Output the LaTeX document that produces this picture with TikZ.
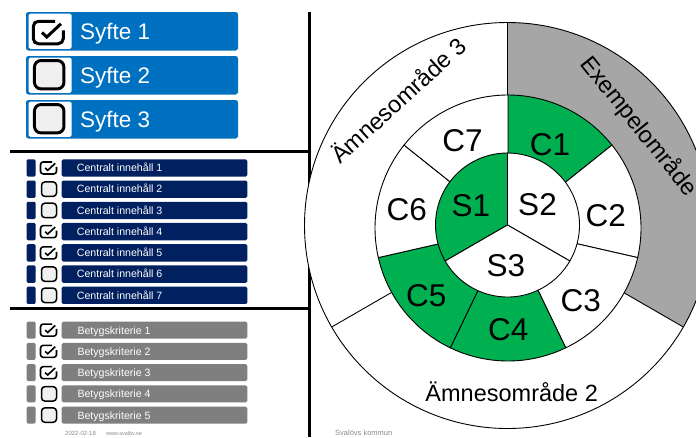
\documentclass[tikz,border=0pt]{standalone}
\usepackage{fontspec}
\setmainfont{Liberation Sans}
\definecolor{syfteblue}{HTML}{0070C0}
\definecolor{navybar}{HTML}{002060}
\definecolor{graybar}{HTML}{7F7F7F}
\definecolor{cgreen}{HTML}{00B050}
\definecolor{ringgray}{HTML}{A6A6A6}
\definecolor{footgray}{HTML}{8C8C8C}
\definecolor{boxfill}{HTML}{F0F0F0}
\tikzset{
  pics/unchk/.style={code={
    \draw[black, fill=boxfill, line width={0.1*#1}, rounded corners={0.22*#1}]
      (-0.5*#1,-0.48*#1) rectangle (0.5*#1,0.48*#1);
  }},
  pics/chk/.style={code={
    \draw[black, fill=white, line width={0.1*#1}, rounded corners={0.17*#1}]
      (0.23*#1,-0.375*#1) -- (-0.5*#1,-0.375*#1) -- (-0.5*#1,0.375*#1)
      -- (0.5*#1,0.375*#1) -- (0.5*#1,-0.07*#1);
    \draw[black, line width={0.1*#1}]
      (-0.21*#1,0.0) -- (-0.05*#1,0.15*#1) -- (0.42*#1,-0.29*#1);
  }},
  thinline/.style={draw=black, line width=0.9pt},
  sepline/.style={draw=black, line width=2.5pt},
  labelC/.style={font=\fontsize{31.5}{36}\selectfont, anchor=base, inner sep=0pt},
  areatext/.style={font=\fontsize{23.5}{28}\selectfont, anchor=base, inner sep=0pt},
  rowtext/.style={text=white, font=\fontsize{10.6}{12}\selectfont, anchor=base west, inner sep=0pt},
  syftetext/.style={text=white, font=\fontsize{22.5}{26}\selectfont, anchor=base west, inner sep=0pt},
  foottext/.style={text=footgray, anchor=base west, inner sep=0pt},
}
\begin{document}
\begin{tikzpicture}[x=1pt,y=-1pt]
\useasboundingbox (0,0) rectangle (696,437);
\clip (0,0) rectangle (696,437);
\fill[white] (0,0) rectangle (696,437);

% ---------- Syfte boxes ----------
\foreach \i/\ty in {1/12,2/56,3/100} {
  \fill[syfteblue, rounded corners=2.5pt] (26,\ty) rectangle (238,\ty+38.5);
  \fill[white, rounded corners=1.5pt] (28.7,\ty+1.7) rectangle (71.5,\ty+36.8);
  \node[syftetext] (syfte\i) at (80,\ty+27) {Syfte \i};
}
\pic at (48.3,32.5) {chk=30};
\pic at (49.2,74.7) {unchk=29.5};
\pic at (49.2,118.7) {unchk=29.5};

% ---------- Centralt innehall ----------
\foreach \i/\ck in {1/1,2/0,3/0,4/1,5/1,6/0,7/0} {
  \pgfmathsetmacro\ty{159.3+21.23*(\i-1)}
  \fill[navybar, rounded corners=1.2pt] (26.7,\ty) rectangle (35.5,\ty+17.3);
  \fill[navybar, rounded corners=1.5pt] (61.7,\ty) rectangle (247.3,\ty+17.3);
  \node[rowtext] (ci\i) at (76.7,\ty+12.4) {Centralt innehåll \i};
  \ifnum\ck=1 \pic at (48.5,\ty+8.65) {chk=16}; \else \pic at (49,\ty+8.65) {unchk=15}; \fi
}

% ---------- Betygskriterier ----------
\foreach \i/\ck in {1/1,2/1,3/1,4/0,5/0} {
  \pgfmathsetmacro\ty{321.7+21.25*(\i-1)}
  \fill[graybar, rounded corners=1.2pt] (26.7,\ty) rectangle (35.5,\ty+16.8);
  \fill[graybar, rounded corners=1.5pt] (61.7,\ty) rectangle (247.3,\ty+16.8);
  \node[rowtext] (bk\i) at (77.3,\ty+12.3) {Betygskriterie \i};
  \ifnum\ck=1 \pic at (48.5,\ty+8.4) {chk=16}; \else \pic at (49,\ty+8.4) {unchk=15}; \fi
}

% ---------- separators ----------
\coordinate (vtop) at (309.5,12);
\coordinate (vbot) at (309.5,437);
\coordinate (h1l) at (10,151.5);
\coordinate (h1r) at (309.5,151.5);
\coordinate (h2l) at (10,308.5);
\coordinate (h2r) at (309.5,308.5);
\draw[sepline] (vtop) -- (vbot);
\draw[sepline] (h1l) -- (h1r);
\draw[sepline] (h2l) -- (h2r);

% ---------- footer ----------
\node[foottext, font=\fontsize{6}{7}\selectfont] (date) at (65,435.5) {2022-02-18};
\node[foottext, font=\fontsize{5.5}{7}\selectfont] (web) at (106,435.5) {www.svalöv.se};
\node[foottext, font=\fontsize{7.5}{9}\selectfont] (kommun) at (335,435) {Svalövs kommun};

% ---------- circle diagram ----------
\begin{scope}[shift={(507.5,225.5)}, yscale=-1]
  \fill[white] (0,0) circle[radius=203];
  \fill[ringgray] (0,0) -- (90:203) arc[start angle=90, end angle=-30, radius=203] -- cycle;
  \draw[thinline] (0,0) circle[radius=203];
  \draw[thinline] (0,0) -- (90:203) (0,0) -- (-30:203) (0,0) -- (210:203);
  \foreach \k/\f in {0/cgreen,1/white,2/white,3/cgreen,4/cgreen,5/white,6/white} {
    \pgfmathsetmacro\a{90-\k*360/7}
    \filldraw[fill=\f, thinline] (0.5,-2.5) -- ++(\a:133)
      arc[start angle=\a, delta angle=-51.4286, radius=133] -- cycle;
  }
  \filldraw[fill=cgreen, thinline] (0,0.5) -- ++(90:72) arc[start angle=90, end angle=210, radius=72] -- cycle;
  \filldraw[fill=white, thinline] (0,0.5) -- ++(-30:72) arc[start angle=-30, end angle=90, radius=72] -- cycle;
  \filldraw[fill=white, thinline] (0,0.5) -- ++(210:72) arc[start angle=210, end angle=330, radius=72] -- cycle;
\end{scope}

\node[labelC] (c1) at (550,155) {C1};
\node[labelC] (c2) at (605.8,226.7) {C2};
\node[labelC] (c3) at (580.8,311.7) {C3};
\node[labelC] (c4) at (508.3,340) {C4};
\node[labelC] (c5) at (426.2,306.7) {C5};
\node[labelC] (c6) at (406.7,220) {C6};
\node[labelC] (c7) at (462.5,151.7) {C7};
\node[labelC] (s1) at (470.8,216.7) {S1};
\node[labelC] (s2) at (537.5,215) {S2};
\node[labelC] (s3) at (505.8,276.7) {S3};

\node[areatext] (amne2) at (511.7,401.7) {Ämnesområde 2};
\node[areatext, rotate=42.2] (amne3) at (404.2,106.7) {Ämnesområde 3};
\node[areatext, rotate=-51.3] (exempel) at (633.2,130.8) {Exempelområde};
\end{tikzpicture}
\end{document}
